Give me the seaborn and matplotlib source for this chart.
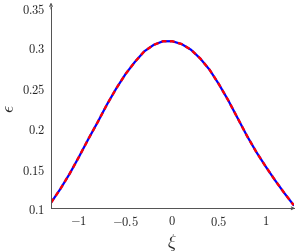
import matplotlib
matplotlib.use("Agg")
import matplotlib.pyplot as plt
import seaborn as sns
import pandas as pd
from matplotlib.ticker import FuncFormatter

# values
xi = [-1.3, -1.2, -1.1, -1.0, -0.9, -0.8, -0.7, -0.6, -0.5, -0.4, -0.3, -0.2, -0.1,
      0.0, 0.1, 0.2, 0.3, 0.4, 0.5, 0.6, 0.7, 0.8, 0.9, 1.0, 1.1, 1.2, 1.3]
eps_exact = [0.107, 0.124, 0.143, 0.164, 0.186, 0.207, 0.229, 0.249, 0.267, 0.282, 0.295,
             0.303, 0.3075, 0.3075, 0.304, 0.297, 0.286, 0.272, 0.254, 0.234, 0.212, 0.190,
             0.170, 0.152, 0.135, 0.119, 0.104]
eps_approx = [0.107, 0.124, 0.143, 0.164, 0.186, 0.207, 0.229, 0.249, 0.267, 0.282, 0.295,
              0.303, 0.3075, 0.3075, 0.304, 0.297, 0.286, 0.272, 0.254, 0.234, 0.212, 0.190,
              0.170, 0.152, 0.135, 0.119, 0.104]
x_ticks = [-1, -0.5, 0, 0.5, 1]
y_ticks = [0.1, 0.15, 0.2, 0.25, 0.3, 0.35]

df = pd.DataFrame({"xi": xi, "exact": eps_exact, "approx": eps_approx})

sns.set_style("white")
plt.rcParams["font.family"] = ["serif"]
plt.rcParams["font.serif"] = ["cmr10", "DejaVu Serif"]
plt.rcParams["mathtext.fontset"] = "cm"

axis_col = "#505050"

fig = plt.figure(figsize=(2.95, 2.53), dpi=100)
ax = fig.add_axes([0.1729, 0.1727, 0.8224, 0.7955])

sns.lineplot(data=df, x="xi", y="exact", ax=ax, color="blue", lw=1.6)
sns.lineplot(data=df, x="xi", y="approx", ax=ax, color="red", lw=1.7)
ax.lines[-1].set_dashes((2.0, 1.5))

ax.set_xlim(-1.3, 1.3)
ax.set_ylim(0.1, 0.35)
ax.set_xticks(x_ticks)
ax.set_yticks(y_ticks)
ax.xaxis.set_major_formatter(FuncFormatter(lambda v, p: f"${v:g}$"))
ax.yaxis.set_major_formatter(FuncFormatter(lambda v, p: f"${v:g}$"))
ax.tick_params(direction="inout", length=3.5, width=0.6, color=axis_col,
               labelsize=9, pad=2.5)

for s in ["top", "right"]:
    ax.spines[s].set_visible(False)
for s in ["left", "bottom"]:
    ax.spines[s].set_color(axis_col)
    ax.spines[s].set_linewidth(0.7)

# pgfplots style arrow heads at the axis ends
arr = dict(arrowstyle="->", lw=0.7, color=axis_col, mutation_scale=5,
           shrinkA=0, shrinkB=0)
ax.annotate("", xy=(0, 1.022), xytext=(0, 0.99), xycoords="axes fraction",
            arrowprops=arr, annotation_clip=False)
ax.annotate("", xy=(1.006, 0), xytext=(0.99, 0), xycoords="axes fraction",
            arrowprops=arr, annotation_clip=False)

ax.set_xlabel(r"$\xi$", fontsize=13)
ax.set_ylabel(r"$\epsilon$", fontsize=13)
ax.xaxis.set_label_coords(0.5, -0.115)
ax.yaxis.set_label_coords(-0.14, 0.5)

fig.savefig("out.png", dpi=100)
